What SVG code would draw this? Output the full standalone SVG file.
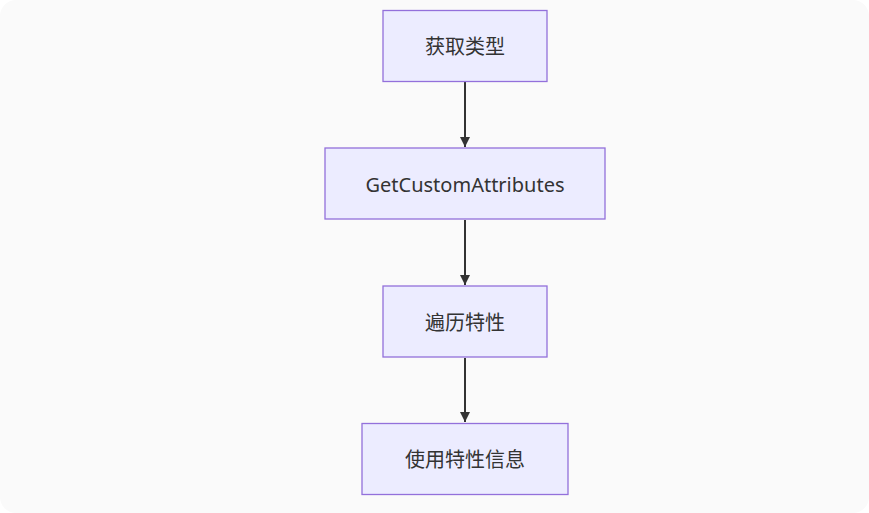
<svg xmlns="http://www.w3.org/2000/svg" width="869" height="513" viewBox="0 0 869 513">
<style>
.node rect{fill:#ECECFF;stroke:#9370DB;stroke-width:1.3}
.node text{font-family:"Noto Sans","Noto Sans CJK SC",sans-serif;font-size:20px;fill:#333;text-anchor:middle;dominant-baseline:central}
.edge{stroke:#333;stroke-width:2;fill:none}
</style>
<defs>
<marker id="arrow" viewBox="0 0 10 10" refX="10" refY="5" markerWidth="5" markerHeight="5" markerUnits="strokeWidth" orient="auto">
<path d="M0,0 L10,5 L0,10 z" fill="#333"/>
</marker>
</defs>
<rect x="0" y="0" width="869" height="513" rx="16" fill="#fafafa"/>
<g id="connectors">
<line class="edge" x1="465" y1="82" x2="465" y2="147" marker-end="url(#arrow)"/>
<line class="edge" x1="465" y1="220" x2="465" y2="285" marker-end="url(#arrow)"/>
<line class="edge" x1="465" y1="358" x2="465" y2="422" marker-end="url(#arrow)"/>
</g>
<g id="n1" class="node"><rect x="383" y="10.5" width="164" height="71"/><text x="465" y="46">获取类型</text></g>
<g id="n2" class="node"><rect x="325" y="148" width="280" height="71"/><text x="465" y="184">GetCustomAttributes</text></g>
<g id="n3" class="node"><rect x="383" y="286" width="164" height="71"/><text x="465" y="322">遍历特性</text></g>
<g id="n4" class="node"><rect x="362" y="423.5" width="206" height="71"/><text x="465" y="459">使用特性信息</text></g>
</svg>
